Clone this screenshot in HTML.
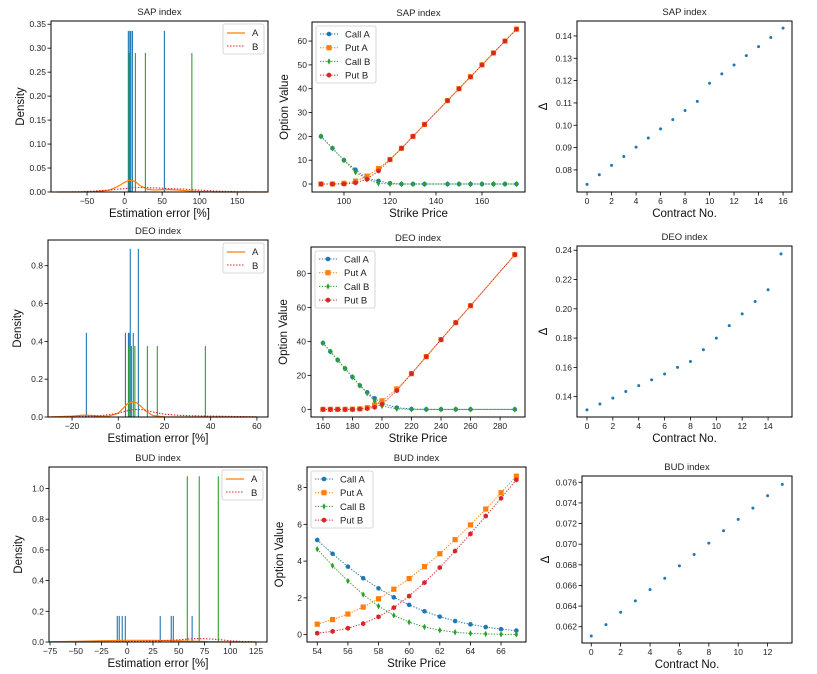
<!DOCTYPE html>
<html><head><meta charset="utf-8">
<style>
html,body{margin:0;padding:0;background:#fff;}
svg{display:block;font-family:"Liberation Sans","DejaVu Sans",sans-serif;}
</style></head>
<body>
<svg id="fig" width="817" height="674" viewBox="0 0 817 674" xmlns="http://www.w3.org/2000/svg"></svg>
<script>
// ---------- data ----------
const sapBlueX=[5,7,8.3,10.4,53];
const sapBlueH=[0.336,0.336,0.336,0.336,0.336];
const sapGreenX=[6,14.4,27.7,89.6];
const sapGreenH=[0.29,0.29,0.29,0.29];
const sapKdeX=[-90,-60,-40,-20,-10,0,5,10,15,20,30,40,50,60,70,80,90,100,120,150,190];
const sapKdeA=[0,0,0.0005,0.004,0.011,0.02,0.024,0.024,0.021,0.014,0.006,0.004,0.005,0.005,0.004,0.003,0.002,0.001,0,0,0];
const sapKdeB=[0,0.0005,0.002,0.004,0.006,0.007,0.008,0.009,0.009,0.0095,0.009,0.0085,0.008,0.007,0.0065,0.006,0.005,0.004,0.002,0.0005,0];

const deoBlueX=[-13.8,3.1,4.4,4.7,5.2,6.5,8.7];
const deoBlueH=[0.445,0.445,0.445,0.445,0.89,0.445,0.89];
const deoGreenX=[4.5,5.7,7.2,12.6,16.9,37.7];
const deoGreenH=[0.375,0.375,0.375,0.375,0.375,0.375];
const deoKdeX=[-30,-20,-15,-12,-8,-4,0,2,4,6,8,10,12,15,20,25,30,40,50,60];
const deoKdeA=[0,0.005,0.01,0.009,0.004,0.005,0.02,0.045,0.07,0.08,0.075,0.055,0.03,0.008,0.001,0,0,0,0,0];
const deoKdeB=[0,0.001,0.003,0.005,0.007,0.012,0.02,0.027,0.033,0.038,0.04,0.039,0.035,0.026,0.015,0.01,0.007,0.005,0.003,0.001];

const budBlueX=[-9.7,-7.8,-4.9,-1.9,32,42.7,44.7,63];
const budBlueH=[0.17,0.17,0.17,0.17,0.17,0.17,0.17,0.17];
const budGreenX=[58.3,69.9,88.4];
const budGreenH=[1.08,1.08,1.08];
const budKdeX=[-75,-50,-25,0,25,50,60,70,80,90,100,110,125];
const budKdeA=[0.002,0.004,0.008,0.011,0.011,0.008,0.006,0.004,0.002,0.001,0,0,0];
const budKdeB=[0,0,0.001,0.003,0.006,0.014,0.02,0.022,0.02,0.015,0.008,0.004,0.001];

const sapK=[90,95,100,105,110,115,120,125,130,135,145,150,155,160,165,170,175];
const sapCallA=[20,15,10,6,2.3,1.3,0.3,0,0,0,0,0,0,0,0,0,0];
const sapPutA=[0,0,0.3,1.2,3.3,6.5,10.3,15,20,25,35,40,45,50,55,60,65];
const sapCallB=[20,15,10,5,2,0.3,0,0,0,0,0,0,0,0,0,0,0];
const sapPutB=[0,0,0,0.5,2,5.5,10.2,15,20,25,35,40,45,50,55,60,65];

const deoK=[160,165,170,175,180,185,190,195,200,210,220,230,240,250,260,290];
const deoCallA=[39,34,29,24,19,14,10,6.5,3.5,1,0.2,0,0,0,0,0];
const deoPutA=[0,0,0,0,0.1,0.3,1,2.5,5,12,21,31,41,51,61,91];
const deoCallB=[39,34,29,24,19,14,9.5,5,2,0.3,0,0,0,0,0,0];
const deoPutB=[0,0,0,0,0,0.2,0.5,1.2,3,11,21,31,41,51,61,91];

const budK=[54,55,56,57,58,59,60,61,62,63,64,65,66,67];
const budCallA=[5.15,4.4,3.7,3.07,2.52,2.03,1.62,1.27,0.98,0.74,0.56,0.41,0.3,0.22];
const budPutA=[0.57,0.82,1.12,1.5,1.95,2.47,3.05,3.7,4.4,5.17,5.97,6.83,7.72,8.62];
const budCallB=[4.65,3.75,2.92,2.18,1.55,1.05,0.68,0.42,0.24,0.13,0.07,0.04,0.02,0.01];
const budPutB=[0.08,0.18,0.35,0.6,0.97,1.47,2.1,2.83,3.65,4.55,5.48,6.45,7.42,8.42];

const sapDelta=[0.0735,0.0778,0.082,0.086,0.0902,0.0943,0.0984,0.1025,0.1066,0.1107,0.1188,0.123,0.127,0.1312,0.1352,0.1393,0.1435];
const deoDelta=[0.131,0.135,0.139,0.1435,0.1475,0.1515,0.1555,0.16,0.164,0.172,0.180,0.1885,0.1965,0.205,0.213,0.2375];
const budDelta=[0.0611,0.0622,0.0634,0.0645,0.0656,0.0667,0.0679,0.069,0.0701,0.0713,0.0724,0.0735,0.0747,0.0758];

const sapHistXT=[-50,0,50,100,150], sapHistYT=[0,0.05,0.1,0.15,0.2,0.25,0.3,0.35];
const deoHistXT=[-20,0,20,40,60], deoHistYT=[0,0.2,0.4,0.6,0.8];
const budHistXT=[-75,-50,-25,0,25,50,75,100,125], budHistYT=[0,0.2,0.4,0.6,0.8,1.0];
const sapOptXT=[100,120,140,160], sapOptYT=[0,10,20,30,40,50,60];
const deoOptXT=[160,180,200,220,240,260,280], deoOptYT=[0,20,40,60,80];
const budOptXT=[54,56,58,60,62,64,66], budOptYT=[0,2,4,6,8];
const sapDelXT=[0,2,4,6,8,10,12,14,16], sapDelYT=[0.08,0.09,0.10,0.11,0.12,0.13,0.14];
const deoDelXT=[0,2,4,6,8,10,12,14], deoDelYT=[0.14,0.16,0.18,0.20,0.22,0.24];
const budDelXT=[0,2,4,6,8,10,12], budDelYT=[0.062,0.064,0.066,0.068,0.070,0.072,0.074,0.076];

// ---------- drawing ----------
const NS="http://www.w3.org/2000/svg";
const fig=document.getElementById('fig');
function mk(tag,attrs,parent){const e=document.createElementNS(NS,tag);for(const k in attrs)e.setAttribute(k,attrs[k]);(parent||fig).appendChild(e);return e;}
const C={blue:'#1f77b4',orange:'#ff7f0e',green:'#2ca02c',red:'#d62728'};

function axes(name,b,xd,yd,xt,yt,xfmt,yfmt,title,xl,yl){
  const g=mk('g',{});
  
  
  const sx=v=>b.l+(v-xd[0])/(xd[1]-xd[0])*(b.r-b.l);
  const sy=v=>b.b-(v-yd[0])/(yd[1]-yd[0])*(b.b-b.t);
  const t=mk('text',{x:(b.l+b.r)/2,y:b.t-6,'text-anchor':'middle','font-size':'9.5',fill:'#222'},g);t.textContent=title;
  
  xt.forEach(v=>{const x=sx(v);mk('line',{x1:x,x2:x,y1:b.b,y2:b.b+3.5,stroke:'#000','stroke-width':0.8},g);
    const s=mk('text',{x:x,y:b.b+12,'text-anchor':'middle','font-size':'8.5',fill:'#222'},g);s.textContent=xfmt(v);
    });
  yt.forEach(v=>{const y=sy(v);mk('line',{x1:b.l-3.5,x2:b.l,y1:y,y2:y,stroke:'#000','stroke-width':0.8},g);
    const s=mk('text',{x:b.l-5,y:y+3,'text-anchor':'end','font-size':'8.5',fill:'#222'},g);s.textContent=yfmt(v);
    });
  const xa=mk('text',{x:(b.l+b.r)/2,y:b.t+(b.b-b.t)+25,'text-anchor':'middle','font-size':'11.5',fill:'#111'},g);xa.textContent=xl;
  
  const yx=b.l-(name.includes('delta')?(name.includes('bud')?33:30):(name.includes('hist')?27:24));
  const ya=mk('text',{x:yx,y:(b.t+b.b)/2,'text-anchor':'middle','font-size':'11.5',fill:'#111',transform:`rotate(-90 ${yx} ${(b.t+b.b)/2})`},g);ya.textContent=yl;
  
  const plot=mk('g',{},g);
  const fr=mk('rect',{x:b.l,y:b.t,width:b.r-b.l,height:b.b-b.t,fill:'none',stroke:'#000','stroke-width':1},g);
  
  return {g,plot,sx,sy};
}
const f2=v=>v.toFixed(2), f1=v=>v.toFixed(1), f0=v=>String(v), f3=v=>v.toFixed(3);
const fm=v=>v<0?'\u2212'+Math.abs(v):String(v);

function hist(name,b,xd,yd,xt,yt,yfmt,title,bx,bh,gx,gh,kx,ka,kb){
  const a=axes(name,b,xd,yd,xt,yt,fm,yfmt,title,'Estimation error [%]','Density');
  bx.forEach((v,i)=>{const l=mk('line',{x1:a.sx(v),x2:a.sx(v),y1:a.sy(0),y2:a.sy(bh[i]),stroke:C.blue,'stroke-width':1.1},a.plot);
    });
  gx.forEach((v,i)=>{const l=mk('line',{x1:a.sx(v),x2:a.sx(v),y1:a.sy(0),y2:a.sy(gh[i]),stroke:C.green,'stroke-width':1.1},a.plot);
    });
  const pa=mk('polyline',{points:kx.map((v,i)=>a.sx(v)+','+a.sy(ka[i])).join(' '),fill:'none',stroke:C.orange,'stroke-width':1.2},a.plot);
  
  const pb=mk('polyline',{points:kx.map((v,i)=>a.sx(v)+','+a.sy(kb[i])).join(' '),fill:'none',stroke:C.red,'stroke-width':1.1,'stroke-dasharray':'1.5,1.5'},a.plot);
  
  const lg=mk('g',{},a.g);
  const lx=b.r-45,ly=b.t+3;
  mk('rect',{x:lx,y:ly,width:41,height:30,rx:2,fill:'#fff','fill-opacity':0.8,stroke:'#ccc','stroke-width':0.8},lg);
  mk('line',{x1:lx+4,x2:lx+22,y1:ly+9,y2:ly+9,stroke:C.orange,'stroke-width':1.2},lg);
  mk('line',{x1:lx+4,x2:lx+22,y1:ly+22,y2:ly+22,stroke:C.red,'stroke-width':1.1,'stroke-dasharray':'1.5,1.5'},lg);
  const t1=mk('text',{x:lx+29,y:ly+12,'font-size':'9.5',fill:'#222'},lg);t1.textContent='A';
  
  const t2=mk('text',{x:lx+29,y:ly+26,'font-size':'9.5',fill:'#222'},lg);t2.textContent='B';
  
}

function marker(p,type,x,y,col){
  let e;
  if(type==='sq')e=mk('rect',{x:x-2.6,y:y-2.6,width:5.2,height:5.2,fill:col},p);
  else if(type==='d')e=mk('polygon',{points:`${x},${y-3.2} ${x+1.8},${y} ${x},${y+3.2} ${x-1.8},${y}`,fill:col},p);
  else if(type==='h')e=mk('polygon',{points:[0,1,2,3,4,5].map(k=>{const an=Math.PI/3*k+Math.PI/6;return (x+2.6*Math.cos(an))+','+(y+2.6*Math.sin(an));}).join(' '),fill:col},p);
  else e=mk('circle',{cx:x,cy:y,r:2.3,fill:col},p);
  
}
function opts(name,b,xd,yd,xt,yt,title,k,ca,pa,cb,pb,lw){
  const a=axes(name,b,xd,yd,xt,yt,f0,f0,title,'Strike Price','Option Value');
  const S=[['Call A',ca,C.blue,'o'],['Put A',pa,C.orange,'sq'],['Call B',cb,C.green,'d'],['Put B',pb,C.red,'h']];
  S.forEach(s=>{
    const pl=mk('polyline',{points:k.map((v,i)=>a.sx(v)+','+a.sy(s[1][i])).join(' '),fill:'none',stroke:s[2],'stroke-width':1,'stroke-dasharray':'1.3,1.5'},a.plot);
    
    k.forEach((v,i)=>marker(a.plot,s[3],a.sx(v),a.sy(s[1][i]),s[2]));
  });
  const lg=mk('g',{},a.g);
  const lx=b.l+4,ly=b.t+4;
  mk('rect',{x:lx,y:ly,width:lw,height:57,rx:2,fill:'#fff','fill-opacity':0.8,stroke:'#ccc','stroke-width':0.8},lg);
  S.forEach((s,j)=>{const yy=ly+8+j*13.7;
    mk('line',{x1:lx+4,x2:lx+22,y1:yy,y2:yy,stroke:s[2],'stroke-width':1,'stroke-dasharray':'1.3,1.5'},lg);
    marker(lg,s[3],lx+13,yy,s[2]);
    const t=mk('text',{x:lx+29,y:yy+3.5,'font-size':'9.5',fill:'#222'},lg);t.textContent=s[0];
    });
}
function delta(name,b,xd,yd,xt,yt,yfmt,title,d){
  const a=axes(name,b,xd,yd,xt,yt,f0,yfmt,title,'Contract No.','\u0394');
  d.forEach((v,i)=>{const c=mk('circle',{cx:a.sx(i),cy:a.sy(v),r:1.5,fill:C.blue},a.plot);
    });
}

hist('sap-hist',{l:51,r:268,t:21,b:192},[-98,191],[0,0.3567],sapHistXT,sapHistYT,f2,'SAP index',sapBlueX,sapBlueH,sapGreenX,sapGreenH,sapKdeX,sapKdeA,sapKdeB);
hist('deo-hist',{l:48,r:268,t:240,b:417},[-30.4,64.8],[0,0.936],deoHistXT,deoHistYT,f1,'DEO index',deoBlueX,deoBlueH,deoGreenX,deoGreenH,deoKdeX,deoKdeA,deoKdeB);
hist('bud-hist',{l:49,r:267,t:467,b:642},[-76,135.7],[0,1.14],budHistXT,budHistYT,f1,'BUD index',budBlueX,budBlueH,budGreenX,budGreenH,budKdeX,budKdeA,budKdeB);

opts('sap-options',{l:312,r:525,t:22,b:192},[86.1,178.7],[-3.35,68],sapOptXT,sapOptYT,'SAP index',sapK,sapCallA,sapPutA,sapCallB,sapPutB,60);
opts('deo-options',{l:311,r:525,t:247,b:417},[151.9,296.9],[-4.5,95.5],deoOptXT,deoOptYT,'DEO index',deoK,deoCallA,deoPutA,deoCallB,deoPutB,60);
opts('bud-options',{l:307,r:526,t:467,b:642},[53.33,67.63],[-0.4,9.12],budOptXT,budOptYT,'BUD index',budK,budCallA,budPutA,budCallB,budPutB,62);

delta('sap-delta',{l:577,r:792,t:21,b:192},[-0.82,16.73],[0.0701,0.1467],sapDelXT,sapDelYT,f2,'SAP index',sapDelta);
delta('deo-delta',{l:577,r:792,t:246,b:417},[-0.77,15.85],[0.1261,0.2429],deoDelXT,deoDelYT,f2,'DEO index',deoDelta);
delta('bud-delta',{l:582,r:792,t:476,b:643},[-0.63,13.66],[0.06042,0.07661],budDelXT,budDelYT,f3,'BUD index',budDelta);
</script>
</body></html>
